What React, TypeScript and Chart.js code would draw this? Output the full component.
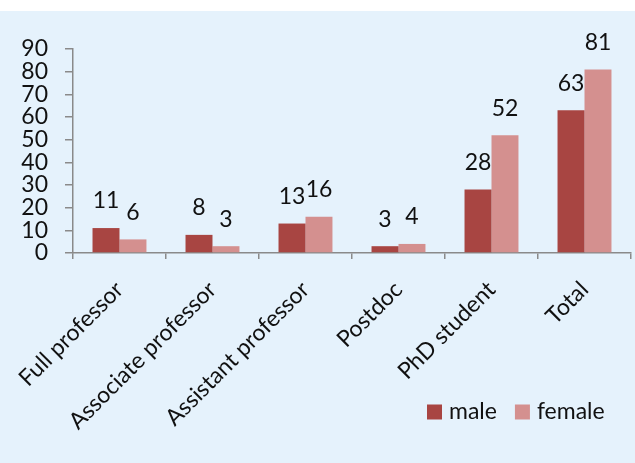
import React, { useEffect, useRef } from "react";
import { Chart, registerables } from "chart.js";

Chart.register(...registerables);

const categories = ["Full professor", "Associate professor", "Assistant professor", "Postdoc", "PhD student", "Total"];
const maleValues = [11, 8, 13, 3, 28, 63];
const femaleValues = [6, 3, 16, 4, 52, 81];
const yTicks = [0, 10, 20, 30, 40, 50, 60, 70, 80, 90];

const FONT = "Lato, 'Open Sans', sans-serif";
const FS = 23;
const MALE = "#A84542";
const FEMALE = "#D4908F";

const valueLabels = {
  id: "valueLabels",
  afterDatasetsDraw(chart: any) {
    const ctx = chart.ctx;
    ctx.save();
    ctx.font = `${FS}px ${FONT}`;
    ctx.fillStyle = "#111";
    ctx.textAlign = "center";
    ctx.textBaseline = "middle";
    chart.data.datasets.forEach((ds: any, i: number) => {
      const meta = chart.getDatasetMeta(i);
      meta.data.forEach((bar: any, j: number) => {
        ctx.fillText(String(ds.data[j]), bar.x, bar.y - 27);
      });
    });
    ctx.restore();
  },
};

const customLegend = {
  id: "customLegend",
  afterDraw(chart: any) {
    const ctx = chart.ctx;
    const area = chart.chartArea;
    ctx.save();
    ctx.font = `${FS}px ${FONT}`;
    ctx.textBaseline = "middle";
    ctx.textAlign = "left";
    let x = area.right - 204;
    const y = 401;
    chart.data.datasets.forEach((ds: any) => {
      ctx.fillStyle = ds.backgroundColor;
      ctx.fillRect(x, y - 7.5, 15, 15);
      ctx.fillStyle = "#111";
      ctx.fillText(ds.label, x + 22, y);
      x += 22 + ctx.measureText(ds.label).width + 18;
    });
    ctx.restore();
  },
};

export default function App() {
  const ref = useRef<HTMLCanvasElement>(null);
  useEffect(() => {
    if (!ref.current) return;
    const chart = new Chart(ref.current, {
      type: "bar",
      data: {
        labels: categories,
        datasets: [
          { label: "male", data: maleValues, backgroundColor: MALE },
          { label: "female", data: femaleValues, backgroundColor: FEMALE },
        ],
      },
      options: {
        responsive: false,
        animation: false,
        layout: { padding: { top: 38, right: 4, left: 0, bottom: 0 } },
        plugins: { legend: { display: false }, tooltip: { enabled: false } },
        datasets: { bar: { categoryPercentage: 0.58, barPercentage: 1 } },
        scales: {
          x: {
            afterFit: (s: any) => { s.height = 210; },
            grid: { display: true, drawOnChartArea: false, drawTicks: true, tickLength: 6, color: "#8a8a8a", lineWidth: 1.5 },
            border: { display: true, color: "#8a8a8a", width: 1.5 },
            ticks: {
              minRotation: 45,
              maxRotation: 45,
              autoSkip: false,
              padding: 17,
              color: "#111",
              font: { family: FONT, size: FS },
            },
          },
          y: {
            min: 0,
            max: 90,
            afterFit: (s: any) => { s.width = 72; },
            afterBuildTicks: (s: any) => { s.ticks = yTicks.map((v) => ({ value: v })); },
            grid: { display: true, drawOnChartArea: false, drawTicks: true, tickLength: 8, color: "#8a8a8a", lineWidth: 1.5 },
            border: { display: true, color: "#8a8a8a", width: 1.5 },
            ticks: { autoSkip: false, padding: 17, color: "#111", font: { family: FONT, size: FS, lineHeight: 1 } },
          },
        },
      },
      plugins: [valueLabels, customLegend],
    });
    return () => chart.destroy();
  }, []);
  return (
    <div style={{ position: "absolute", left: 0, top: 0, width: 635, height: 463, background: "#fff" }}>
      <div style={{ position: "absolute", left: 0, top: 11, width: 635, height: 452, background: "#E5F2FC" }}>
        <canvas ref={ref} width={635} height={452} style={{ display: "block" }} />
      </div>
    </div>
  );
}
